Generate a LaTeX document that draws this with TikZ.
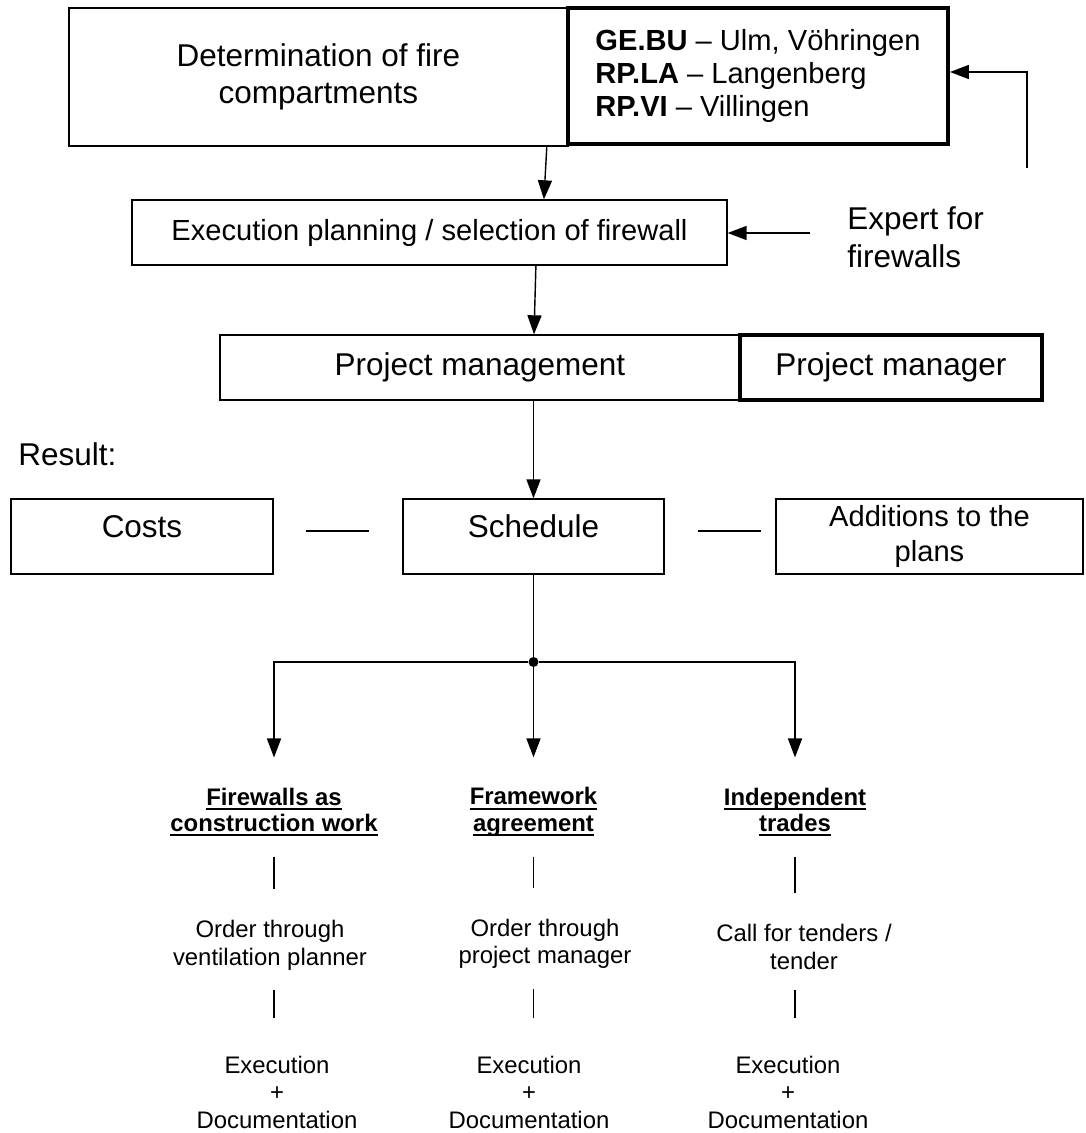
\documentclass[tikz,border=0pt]{standalone}
\usepackage{fontspec}
\setmainfont{Liberation Sans}
\usetikzlibrary{arrows.meta, positioning, calc}
\newcommand{\uword}[1]{\setbox0\hbox{#1}\rlap{\rule[-3.4pt]{\wd0}{1.3pt}}\box0}

\begin{document}
\begin{tikzpicture}[
    bigfont/.style={font=\fontsize{22.4}{26.5}\selectfont},
    midfont/.style={font=\fontsize{20.7}{23.6}\selectfont},
    smallfont/.style={font=\fontsize{17}{19.6}\selectfont, align=center, inner sep=0pt},
    head/.style={font=\fontsize{17}{18.8}\selectfont\bfseries, align=center, inner sep=0pt},
    plainbox/.style={draw, line width=1pt, align=center, inner sep=0pt},
    heavybox/.style={draw, line width=2.8pt, align=center, inner sep=0pt},
    resultbox/.style={plainbox, bigfont, minimum width=#1, minimum height=1.875cm, text height=16pt, text depth=14pt},
    flow/.style={line width=1pt, -{Triangle[length=13.5pt, width=10pt]}},
    link/.style={line width=1pt}
]
    \useasboundingbox (0,0) rectangle (27.125,-28.325);

    % Fire compartments and sites
    \node[plainbox, bigfont, minimum width=12.48cm, minimum height=3.45cm] (det) at (7.96,-1.925) {Determination of fire\\compartments};
    \node[heavybox, midfont, align=left, minimum width=9.5cm, minimum height=3.4cm] (sites) at (18.95,-1.9)
        {\textbf{GE.BU} – Ulm, Vöhringen\\\textbf{RP.LA} – Langenberg\\\textbf{RP.VI} – Villingen};
    \coordinate (fbstart) at (25.675,-4.2);
    \draw[flow] (fbstart) |- ([yshift=0.1cm]sites.east);

    % Execution planning
    \node[plainbox, midfont, minimum width=14.875cm, minimum height=1.625cm] (exec) at (10.7375,-5.8125) {Execution planning / selection of firewall};
    \node[bigfont, align=left, anchor=west, inner sep=0pt] (expert) at (21.175,-5.93) {Expert for\\firewalls};
    \coordinate (expertfrom) at (20.25,-5.825);
    \draw[flow] (expertfrom) -- (expertfrom -| exec.east);
    \draw[flow] ([xshift=5.71cm]det.south) -- ([xshift=2.86cm]exec.north);

    % Project management
    \node[plainbox, bigfont, minimum width=13cm, minimum height=1.625cm] (pm) at (12,-9.1875) {Project management};
    \node[heavybox, bigfont, minimum width=7.55cm, minimum height=1.625cm] (mgr) at (22.275,-9.1875) {Project manager};
    \draw[flow] ([xshift=2.66cm]exec.south) -- ([xshift=1.35cm]pm.north);

    % Result
    \node[bigfont, anchor=west, inner sep=0pt] (result) at (0.45,-11.35) {Result:};
    \node[resultbox=6.55cm] (costs) at (3.55,-13.4125) {Costs};
    \node[resultbox=6.525cm] (sched) at (13.3375,-13.4125) {Schedule};
    \node[plainbox, font=\fontsize{20.7}{25}\selectfont, minimum width=7.675cm, minimum height=1.875cm] (addn) at (23.2375,-13.4125) {Additions to the\\plans};
    \draw[link, shorten <=0.8cm, shorten >=0.825cm] ([yshift=0.14cm]costs.east) -- ([yshift=0.14cm]sched.west);
    \draw[link, shorten <=0.825cm, shorten >=0.35cm] ([yshift=0.14cm]sched.east) -- ([yshift=0.14cm]addn.west);
    \draw[flow] (pm.south -| sched.north) -- (sched.north);

    % Branches
    \node[circle, fill, inner sep=0pt, minimum size=0.25cm] (split) at (13.3375,-16.55) {};
    \draw[link] (sched.south) -- (split);
    \node[head] (fw) at (6.85,-20.3) {\uword{Firewalls as}\\\uword{construction work}};
    \node[head] (frame) at (13.3375,-20.3) {\uword{Framework}\\\uword{agreement}};
    \node[head] (indep) at (19.875,-20.3) {\uword{Independent}\\\uword{trades}};
    \draw[flow, shorten >=0.75cm] (split) -| (fw);
    \draw[flow, shorten >=0.75cm] (split) -- (frame);
    \draw[flow, shorten >=0.75cm] (split) -| (indep);

    % Ordering
    \node[smallfont] (ord1) at (6.75,-23.63) {Order through\\ventilation planner};
    \node[smallfont] (ord2) at (13.625,-23.6) {Order through\\project manager};
    \node[smallfont] (ord3) at (20.1,-23.68) {Call for tenders /\\tender};
    \node[smallfont] (exe1) at (6.925,-27.3) {Execution\\+\\Documentation};
    \node[smallfont] (exe2) at (13.225,-27.3) {Execution\\+\\Documentation};
    \node[smallfont] (exe3) at (19.7,-27.3) {Execution\\+\\Documentation};

    \draw[link, shorten <=0.5cm, shorten >=0.775cm] (fw.south) -- (fw.south |- ord1.north);
    \draw[link, shorten <=0.5cm, shorten >=0.775cm] (frame.south) -- (frame.south |- ord2.north);
    \draw[link, shorten <=0.5cm, shorten >=0.775cm] (indep.south) -- (indep.south |- ord3.north);
    \draw[link, shorten <=0.5cm, shorten >=0.925cm] (ord1.south -| fw.south) -- (exe1.north -| fw.south);
    \draw[link, shorten <=0.5cm, shorten >=0.925cm] (ord2.south -| frame.south) -- (exe2.north -| frame.south);
    \draw[link, shorten <=0.5cm, shorten >=0.925cm] (ord3.south -| indep.south) -- (exe3.north -| indep.south);
\end{tikzpicture}
\end{document}
